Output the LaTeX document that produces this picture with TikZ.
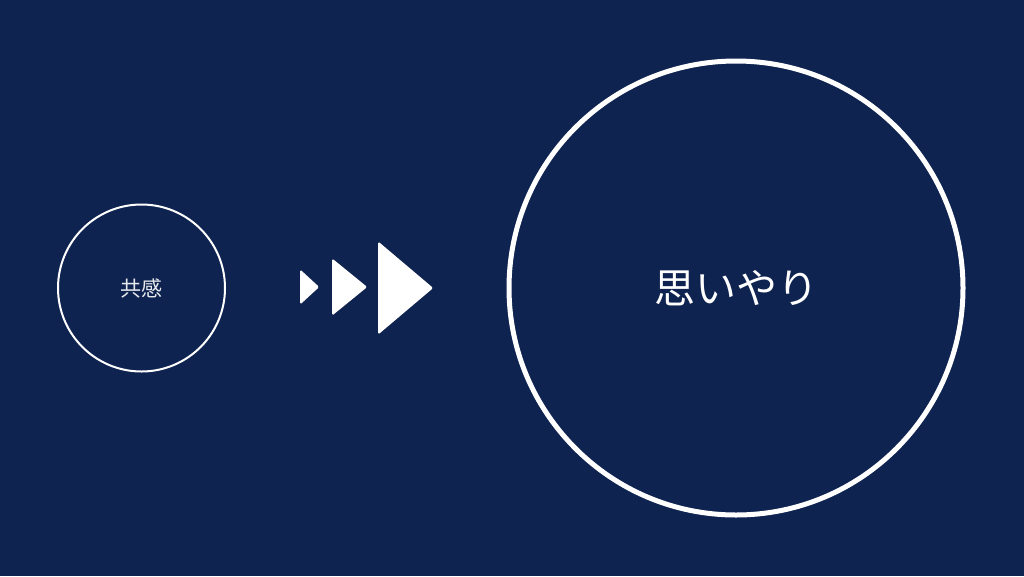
\documentclass[tikz,border=0pt]{standalone}
\usepackage{fontspec}
\newfontfamily\jpfont{Noto Sans CJK JP}
\usetikzlibrary{shapes.geometric}
\definecolor{navy}{HTML}{0F2350}

\begin{document}
\begin{tikzpicture}[x=1pt,y=-1pt,
  ring/.style={circle,draw=white,inner sep=0pt},
  arrowhead/.style={isosceles triangle,isosceles triangle stretches,fill=white,
    inner sep=0pt,anchor=west,rounded corners=1.5pt}]
  \fill[navy] (0,0) rectangle (1024,576);
  \useasboundingbox (0,0) rectangle (1024,576);

  \node (empathy) at (141.5,288) [ring,line width=2pt,minimum size=167pt,
    text=white!90!navy,font=\jpfont\fontsize{21}{21}\selectfont] {共感};
  \node (tri1) at (300,287) [arrowhead,minimum height=19pt,minimum width=35pt] {};
  \node (tri2) at (332,287) [arrowhead,minimum height=35pt,minimum width=57pt] {};
  \node (tri3) at (378,288) [arrowhead,minimum height=55pt,minimum width=93pt] {};
  \node (care) at (736,288) [ring,line width=5pt,minimum size=454pt,
    text=white,font=\jpfont\fontsize{41}{41}\selectfont] {思いやり};
\end{tikzpicture}
\end{document}
